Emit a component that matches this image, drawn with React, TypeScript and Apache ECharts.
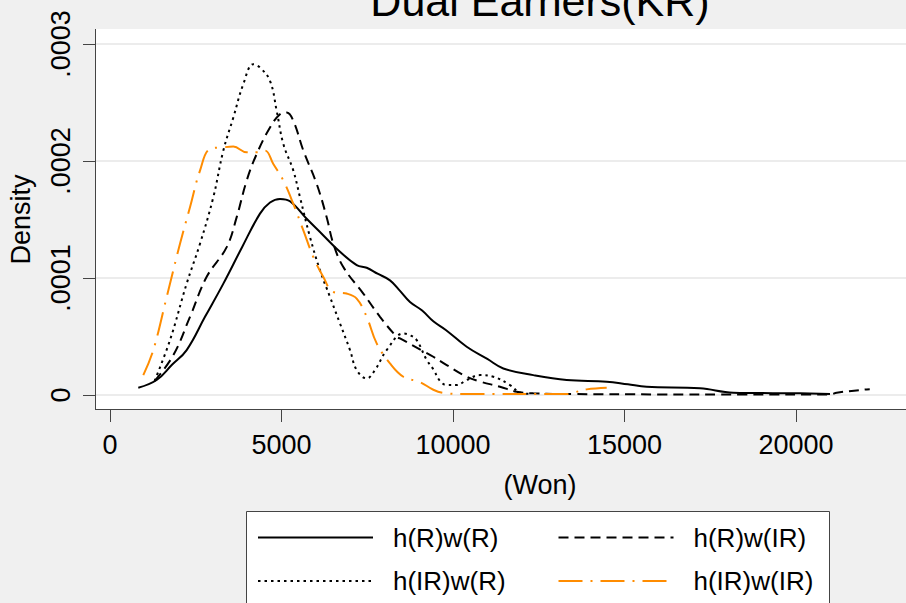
import React, { useEffect, useRef } from 'react';
import * as echarts from 'echarts';

const FONT = "'Liberation Sans', Arial, sans-serif";

const titleText = 'Dual Earners(KR)';
const xName = '(Won)';
const yName = 'Density';
const xTicks = [0, 5000, 10000, 15000, 20000];
const xTickLabels = ['0', '5000', '10000', '15000', '20000'];
const yTicks = [0, 0.0001, 0.0002, 0.0003];
const yTickLabels = ['0', '.0001', '.0002', '.0003'];
const seriesNames = ['h(R)w(R)', 'h(R)w(IR)', 'h(IR)w(R)', 'h(IR)w(IR)'];

// h(R)w(R) – solid
const rrX = [825, 1360, 1800, 2235, 2770, 3305, 3850, 4373, 4665, 4956, 5248, 5734, 6200, 6609, 7193, 7484, 7800, 8163, 8455, 8746, 9100, 9426, 9800, 10399, 11000, 11467, 12341, 13314, 14481, 15100, 15646, 17201, 18172, 20117, 20991];
const rrY = [0.0000062, 0.0000128, 0.0000256, 0.0000384, 0.0000668, 0.0000952, 0.0001263, 0.000155, 0.0001645, 0.0001676, 0.0001656, 0.0001506, 0.000137, 0.000125, 0.000111, 0.0001088, 0.0001037, 0.000098, 0.000089, 0.0000795, 0.0000722, 0.000063, 0.0000554, 0.0000412, 0.0000308, 0.0000227, 0.000017, 0.0000128, 0.0000114, 0.0000091, 0.0000071, 0.0000057, 0.000002, 0.0000014, 0.0000009];

// h(R)w(IR) – dashed
const rirX = [1300, 1846, 2332, 2819, 3402, 3694, 3985, 4277, 4665, 4956, 5151, 5345, 5637, 6026, 6317, 6511, 6802, 7385, 7872, 8358, 8455, 9135, 9426, 9816, 10399, 10787, 11370, 11856, 12341, 13500, 16000, 18500, 21000, 21186, 22060, 22150];
const rirY = [0.000012, 0.000034, 0.0000668, 0.000101, 0.0001264, 0.000152, 0.0001833, 0.000206, 0.0002287, 0.00024, 0.0002415, 0.0002344, 0.0002089, 0.0001804, 0.000152, 0.0001293, 0.0001094, 0.0000867, 0.0000668, 0.0000497, 0.0000483, 0.0000374, 0.0000327, 0.0000256, 0.0000156, 0.0000115, 0.0000071, 0.0000028, 0.0000014, 0.0000008, 0.0000005, 0.0000004, 0.0000005, 0.000002, 0.0000048, 0.000005];

// h(IR)w(R) – dotted
const irrX = [1300, 1749, 2235, 2624, 3012, 3304, 3596, 3887, 4179, 4373, 4665, 4859, 5053, 5345, 5539, 5831, 6122, 6414, 6706, 6997, 7192, 7484, 7726, 8066, 8552, 8746, 8941, 9232, 9426, 9620, 9816, 10107, 10399, 10787, 11176, 11662, 11953, 12200];
const irrY = [0.000012, 0.0000469, 0.0000952, 0.0001293, 0.000169, 0.0002089, 0.0002372, 0.0002657, 0.0002827, 0.0002799, 0.0002685, 0.000243, 0.0002146, 0.0001918, 0.000169, 0.000135, 0.0001066, 0.0000838, 0.0000611, 0.0000384, 0.0000213, 0.0000142, 0.0000213, 0.0000384, 0.0000526, 0.0000511, 0.0000469, 0.00003, 0.000022, 0.000012, 0.0000085, 0.0000085, 0.0000128, 0.000017, 0.0000156, 0.0000085, 0.000002, 0.000001];

// h(IR)w(IR) – orange dash-dot
const iririX = [971, 1263, 1653, 2041, 2332, 2624, 2915, 3304, 3596, 3985, 4277, 4519, 4762, 5053, 5345, 5637, 5928, 6220, 6511, 6900, 7192, 7484, 7775, 8163, 8552, 9038, 9426, 9718, 10300, 13314, 13508, 13897, 14481];
const iririY = [0.000017, 0.0000384, 0.0000838, 0.0001293, 0.0001605, 0.0001918, 0.0002103, 0.0002117, 0.0002123, 0.0002074, 0.0002074, 0.0002089, 0.0001975, 0.0001833, 0.0001634, 0.0001407, 0.0001179, 0.0001009, 0.000088, 0.0000867, 0.0000824, 0.0000668, 0.0000441, 0.000027, 0.0000156, 0.000011, 0.0000045, 0.0000018, 0.0000008, 0.0000008, 0.000002, 0.0000048, 0.0000062];

const pairs = (xs: number[], ys: number[]) => xs.map((x, i) => [x, ys[i]]);

export default function App() {
  const ref = useRef<HTMLDivElement>(null);
  useEffect(() => {
    document.body.style.margin = '0';
    const chart = echarts.init(ref.current!, undefined, { renderer: 'svg' });
    const mkLine = (idx: number, xs: number[], ys: number[], color: string, type: any) => ({
      name: seriesNames[idx],
      type: 'line',
      data: pairs(xs, ys),
      symbol: 'none',
      showSymbol: false,
      smooth: 0.4,
      clip: false,
      z: 5,
      itemStyle: { color },
      lineStyle: { color, width: 2, type },
    });
    chart.setOption({
      animation: false,
      backgroundColor: '#f0f0f0',
      textStyle: { fontFamily: FONT },
      grid: { left: 96, right: 96, top: 44, bottom: 208, outerBoundsMode: 'none', containLabel: false },
      graphic: [
        { type: 'rect', z: -10, silent: true, shape: { x: 96, y: 29, width: 888, height: 381 }, style: { fill: '#ffffff' } },
        { type: 'line', z: 10, silent: true, shape: { x1: 95.5, y1: 29, x2: 95.5, y2: 410 }, style: { stroke: '#444', lineWidth: 1 } },
        { type: 'line', z: 10, silent: true, shape: { x1: 95, y1: 409.5, x2: 984, y2: 409.5 }, style: { stroke: '#444', lineWidth: 1 } },
        { type: 'rect', z: -10, silent: true, shape: { x: 246.5, y: 511.5, width: 583, height: 120 }, style: { fill: '#ffffff', stroke: '#444', lineWidth: 1 } },
        { type: 'text', z: 10, silent: true, x: 540, y: 0.5, style: { text: titleText, fontSize: 43, fontFamily: FONT, fill: '#000', align: 'center', verticalAlign: 'middle' } },
      ],
      xAxis: {
        type: 'value',
        min: -408,
        max: 25481,
        offset: 15,
        name: xName,
        nameLocation: 'middle',
        nameGap: 61,
        nameTextStyle: { fontSize: 27, color: '#000', fontFamily: FONT },
        axisLine: { show: false, onZero: false },
        axisTick: { show: true, customValues: xTicks, length: 12, lineStyle: { color: '#444', width: 1 } },
        axisLabel: {
          customValues: xTicks,
          fontSize: 27,
          color: '#000',
          margin: 21,
          fontFamily: FONT,
          formatter: (v: number) => {
            const i = xTicks.findIndex((t) => Math.abs(t - v) < 1e-6);
            return i >= 0 ? xTickLabels[i] : '';
          },
        },
        splitLine: { show: false },
      },
      yAxis: {
        type: 'value',
        min: 0,
        max: 0.0003,
        interval: 0.0001,
        name: yName,
        nameLocation: 'middle',
        nameRotate: 90,
        nameGap: 62,
        nameTextStyle: { fontSize: 27, color: '#000', fontFamily: FONT },
        axisLine: { show: false, onZero: false },
        axisTick: { show: true, length: 13, lineStyle: { color: '#444', width: 1 } },
        axisLabel: {
          rotate: 90,
          fontSize: 27,
          color: '#000',
          margin: 22,
          fontFamily: FONT,
          formatter: (v: number) => {
            const i = yTicks.findIndex((t) => Math.abs(t - v) < 1e-9);
            return i >= 0 ? yTickLabels[i] : '';
          },
        },
        splitLine: { show: true, lineStyle: { color: '#e6e6e6', width: 1.5 } },
      },
      legend: {
        data: seriesNames,
        selectedMode: false,
        orient: 'horizontal',
        left: 257,
        top: 520.75,
        width: 595,
        padding: 0,
        itemWidth: 115,
        itemHeight: 20,
        itemGap: 10,
        itemStyle: { opacity: 0, borderWidth: 0 },
        textStyle: { fontSize: 26, color: '#000', fontFamily: FONT, width: 154.5, lineHeight: 33.5, padding: [0, 0, 0, 15] },
      },
      series: [
        mkLine(0, rrX, rrY, '#000000', 'solid'),
        mkLine(1, rirX, rirY, '#000000', [10, 6]),
        mkLine(2, irrX, irrY, '#000000', [2.5, 4]),
        mkLine(3, iririX, iririY, '#ff8c00', [24, 8, 2, 8]),
      ],
    });
    return () => chart.dispose();
  }, []);
  return (
    <div style={{ position: 'fixed', left: 0, top: 0, width: 906, height: 603, overflow: 'hidden' }}>
      <div ref={ref} style={{ width: 1080, height: 603 }} />
    </div>
  );
}
